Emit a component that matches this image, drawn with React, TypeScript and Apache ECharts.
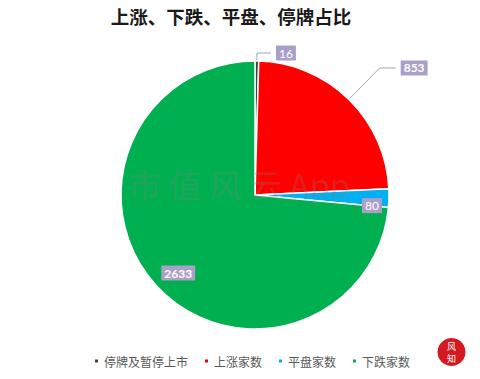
import React, { useEffect, useRef } from "react";
import * as echarts from "echarts";

const categories = ["停牌及暂停上市", "上涨家数", "平盘家数", "下跌家数"];
const values = [16, 853, 80, 2633];
const colors = ["#404040", "#ff0000", "#00b0f0", "#00b050"];
const titleText = "上涨、下跌、平盘、停牌占比";
const watermark = "市 值 风 云 App";

export default function App() {
  const ref = useRef<HTMLDivElement>(null);
  useEffect(() => {
    const chart = echarts.init(ref.current!, null, { renderer: "svg" });
    const boxLabel = {
      formatter: "{c}",
      backgroundColor: "#ab9fc8",
      color: "#ffffff",
      fontSize: 12,
      fontFamily: "Lato, 'Noto Sans', sans-serif",
      padding: [2, 3, 1, 3],
    };
    const data = categories.map((name, i) => {
      const outside = i < 2;
      return {
        name,
        value: values[i],
        itemStyle: { color: colors[i] },
        label: {
          show: true,
          position: outside ? "outside" : "inside",
          fontWeight: i === 0 || i === 2 ? "normal" : "bold",
          ...boxLabel,
        },
        labelLine: outside
          ? {
              show: true,
              length: i === 0 ? 8 : 44,
              length2: i === 0 ? 14 : 16,
              lineStyle: { color: "#a6a6a6", width: 1 },
            }
          : { show: false },
      };
    });
    chart.setOption({
      animation: false,
      backgroundColor: "#ffffff",
      title: {
        text: titleText,
        left: 226,
        top: 2,
        textAlign: "center",
        textStyle: {
          fontSize: 18.5,
          fontWeight: "bold",
          color: "#1a1a1a",
          fontFamily: "'Noto Sans CJK SC', sans-serif",
        },
      },
      legend: {
        data: categories,
        left: 88,
        top: 350,
        icon: "rect",
        itemWidth: 5,
        itemHeight: 5,
        itemGap: 15,
        textStyle: {
          fontSize: 12,
          color: "#595959",
          fontFamily: "'Noto Sans CJK SC', sans-serif",
        },
      },
      graphic: [
        {
          type: "text",
          left: 128,
          top: 167,
          z: 100,
          style: {
            text: watermark,
            fontSize: 33,
            fill: "rgba(130,130,130,0.25)",
            fontFamily: "'Noto Sans CJK SC', sans-serif",
          },
        },
        {
          type: "circle",
          shape: { cx: 451.5, cy: 352, r: 14 },
          style: { fill: "#d41920" },
        },
        {
          type: "text",
          x: 451.5,
          y: 346,
          style: {
            text: "风",
            fontSize: 9,
            fill: "#ffffff",
            align: "center",
            verticalAlign: "middle",
            fontFamily: "'Noto Sans CJK SC', sans-serif",
          },
        },
        {
          type: "text",
          x: 451.5,
          y: 358,
          style: {
            text: "知",
            fontSize: 9,
            fill: "#ffffff",
            align: "center",
            verticalAlign: "middle",
            fontFamily: "'Noto Sans CJK SC', sans-serif",
          },
        },
      ],
      series: [
        {
          type: "pie",
          center: [255, 195],
          radius: [0, 134],
          startAngle: 90,
          clockwise: true,
          avoidLabelOverlap: false,
          itemStyle: { borderColor: "#ffffff", borderWidth: 1.5 },
          emphasis: { disabled: true },
          data,
          labelLayout: (params: any) => {
            if (params.dataIndex === 3) return { dx: -25, dy: 31 };
            if (params.dataIndex === 2) return { dx: 47, dy: 9 };
            return {};
          },
        },
      ],
    });
    return () => chart.dispose();
  }, []);
  return (
    <div
      ref={ref}
      style={{ position: "fixed", left: 0, top: 0, width: 480, height: 379 }}
    />
  );
}
